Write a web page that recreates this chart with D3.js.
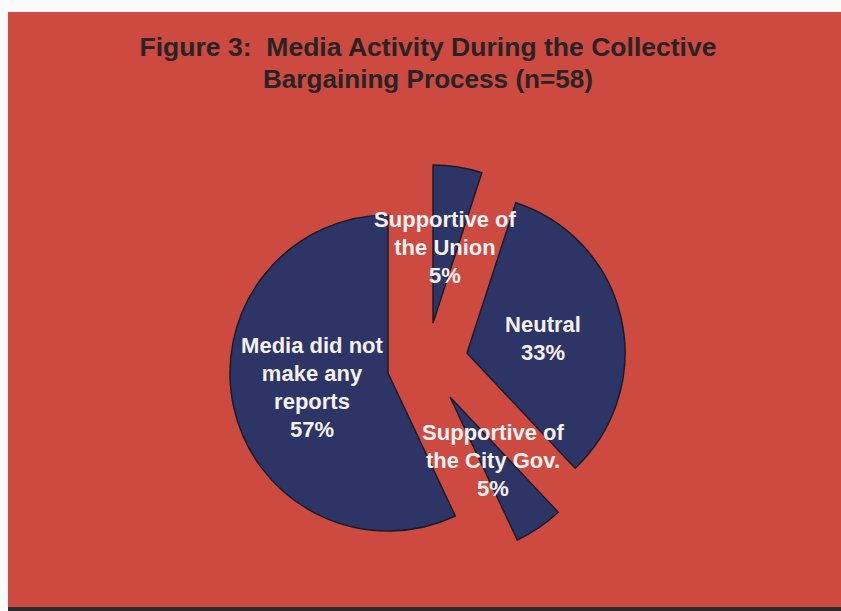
<!DOCTYPE html>
<html>
<head>
<meta charset="utf-8">
<script src="https://cdn.jsdelivr.net/npm/d3@7"></script>
<style>
  html, body { margin: 0; padding: 0; background: #fff; }
  svg { display: block; }
  text.title { white-space: pre; }
</style>
</head>
<body>
<div id="chart"></div>
<script>
// Media coverage during bargaining, n=58
const categories = ["Supportive of the Union", "Neutral", "Supportive of the City Gov.", "Media did not make any reports"];
const percents = [5, 33, 5, 57];
const labelLines = [
    ["Supportive of", "the Union", "5%"],
    ["Neutral", "33%"],
    ["Supportive of", "the City Gov.", "5%"],
    ["Media did not", "make any", "reports", "57%"]
];
const titleLines = ["Figure 3:  Media Activity During the Collective", "Bargaining Process (n=58)"];

const width = 841;
const height = 611;
const cx = 388, cy = 373, radius = 158;

// each slice is pulled out of the pie by its own amount
const explode = [[45, -50], [79, -20], [62, 24], [0, 0]];
// first-line anchor of each label, relative to the pie centre
const labelAnchor = [[57, -146], [155, -41], [105, 67], [-76, -20]];
const lineHeight = 28;

const svg = d3.select("#chart")
    .append("svg")
    .attr("width", width)
    .attr("height", height);

// Panel.
svg.append("rect")
    .attr("x", 0).attr("y", 0)
    .attr("width", width).attr("height", height)
    .attr("fill", "#fbfafa");

svg.append("rect")
    .attr("x", 8).attr("y", 12)
    .attr("width", width - 8).attr("height", height - 12)
    .attr("fill", "#2e2a2c");

svg.append("rect")
    .attr("x", 8).attr("y", 12)
    .attr("width", width - 8).attr("height", 595)
    .attr("fill", "#cc4a40");

// Title, set in a condensed bold face.
const titleWidths = [577, 330];
svg.selectAll("text.title")
    .data(titleLines)
    .enter()
    .append("text")
    .attr("class", "title")
    .attr("x", 428)
    .attr("y", (d, i) => 56 + i * 32)
    .attr("text-anchor", "middle")
    .attr("font-family", "'Liberation Sans Narrow', 'Liberation Sans', Arial, sans-serif")
    .attr("font-weight", "bold")
    .attr("font-size", "26px")
    .attr("fill", "#2a2225")
    .attr("textLength", (d, i) => titleWidths[i])
    .attr("lengthAdjust", "spacingAndGlyphs")
    .text(d => d);

// Pie, clockwise from 12 o'clock.
const pie = d3.pie().sort(null).value(d => d);
const arcs = pie(percents);
const arc = d3.arc().innerRadius(0).outerRadius(radius);

svg.selectAll("path.slice")
    .data(arcs)
    .enter()
    .append("path")
    .attr("class", "slice")
    .attr("transform", (d, i) => `translate(${cx + explode[i][0]},${cy + explode[i][1]})`)
    .attr("d", arc)
    .attr("fill", "#2d3566")
    .attr("stroke", "#1c1a2a")
    .attr("stroke-width", 1.5)
    .attr("stroke-linejoin", "miter");

// Labels.
labelLines.forEach((lines, i) => {
    svg.append("text")
        .attr("x", cx + labelAnchor[i][0])
        .attr("y", cy + labelAnchor[i][1])
        .attr("text-anchor", "middle")
        .attr("font-family", "'Liberation Sans', Arial, sans-serif")
        .attr("font-weight", "bold")
        .attr("font-size", "22px")
        .attr("fill", "#f6f1f2")
        .selectAll("tspan")
        .data(lines)
        .enter()
        .append("tspan")
        .attr("x", cx + labelAnchor[i][0])
        .attr("dy", (d, j) => j === 0 ? 0 : lineHeight)
        .text(d => d);
});
</script>
</body>
</html>
